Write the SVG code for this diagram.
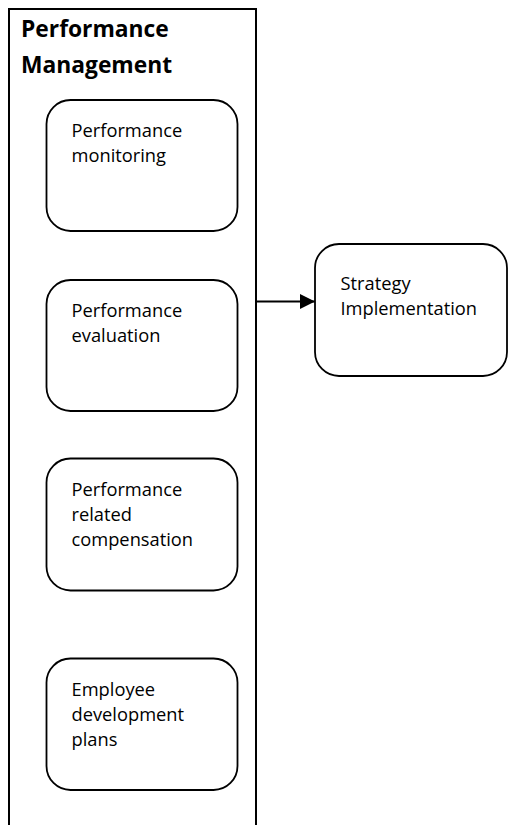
<svg xmlns="http://www.w3.org/2000/svg" width="510" height="825" viewBox="0 0 510 825">
  <style>
    .box { fill: #ffffff; stroke: #000000; stroke-width: 1.8; }
    .frame { fill: none; stroke: #000000; stroke-width: 2; }
    .lbl { font-family: "Open Sans", "Liberation Sans", sans-serif; font-size: 18.3px; fill: #000000; }
    .title { font-family: "Open Sans", "Liberation Sans", sans-serif; font-size: 22.8px; font-weight: bold; fill: #000000; }
    .conn { stroke: #000000; stroke-width: 2; fill: none; }
  </style>
  <defs>
    <marker id="arrow" markerUnits="userSpaceOnUse" markerWidth="16" markerHeight="16" refX="15" refY="7.5" orient="auto">
      <path d="M0,0 L15,7.5 L0,15 Z" fill="#000000"/>
    </marker>
  </defs>
  <rect x="0" y="0" width="510" height="825" fill="#ffffff"/>
  <g id="performance-management">
    <path class="frame" d="M9,835 L9,9 L256,9 L256,835"/>
    <text class="title" x="21" y="37">Performance</text>
    <text class="title" x="21" y="73">Management</text>
  </g>
  <g id="performance-monitoring">
    <rect class="box" x="46.5" y="100" width="191" height="131" rx="24" ry="24"/>
    <text class="lbl" x="71.5" y="136.5">Performance</text>
    <text class="lbl" x="71.5" y="161.5">monitoring</text>
  </g>
  <g id="performance-evaluation">
    <rect class="box" x="46.5" y="280" width="191" height="131" rx="24" ry="24"/>
    <text class="lbl" x="71.5" y="316.5">Performance</text>
    <text class="lbl" x="71.5" y="341.5">evaluation</text>
  </g>
  <g id="performance-related-compensation">
    <rect class="box" x="46.5" y="458.5" width="191" height="132" rx="24" ry="24"/>
    <text class="lbl" x="71.5" y="496">Performance</text>
    <text class="lbl" x="71.5" y="521">related</text>
    <text class="lbl" x="71.5" y="546">compensation</text>
  </g>
  <g id="employee-development-plans">
    <rect class="box" x="46.5" y="658.5" width="191" height="131.5" rx="24" ry="24"/>
    <text class="lbl" x="71.5" y="696">Employee</text>
    <text class="lbl" x="71.5" y="721">development</text>
    <text class="lbl" x="71.5" y="746">plans</text>
  </g>
  <g id="strategy-implementation">
    <rect class="box" x="315" y="244" width="192" height="132" rx="24" ry="24"/>
    <text class="lbl" x="340.5" y="289.5">Strategy</text>
    <text class="lbl" x="340.5" y="314.5">Implementation</text>
  </g>
  <g id="connectors">
    <line class="conn" x1="256" y1="301.5" x2="315" y2="301.5" marker-end="url(#arrow)"/>
  </g>
</svg>
